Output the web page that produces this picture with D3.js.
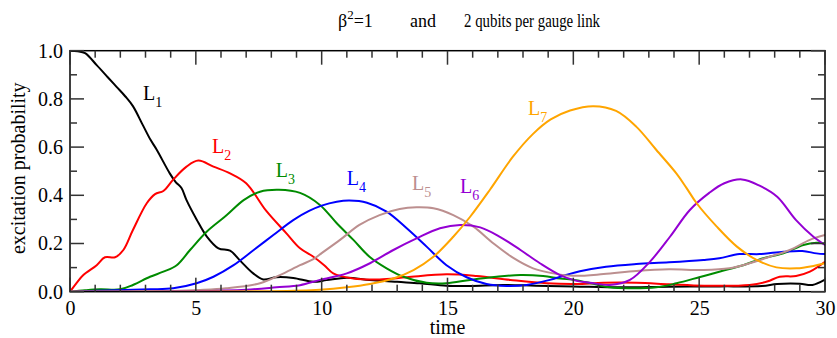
<!DOCTYPE html>
<html>
<head>
<meta charset="utf-8">
<script src="https://cdn.jsdelivr.net/npm/d3@7"></script>
<style>
  body { margin: 0; background: #fff; }
  text { font-family: "Liberation Serif", "DejaVu Serif", serif; }
</style>
</head>
<body>
<svg id="chart" width="837" height="338"></svg>
<script>
// data (time, excitation probability)
var L1 = [[0,1.0],[0.3,0.998],[0.6,0.99],[1.06,0.94],[1.5,0.89],[1.85,0.85],[2.2,0.81],[2.5,0.77],[2.9,0.69],[3.2,0.63],[3.44,0.59],[3.97,0.49],[4.2,0.455],[4.43,0.43],[4.63,0.38],[5.03,0.30],[5.43,0.23],[5.9,0.18],[6.36,0.17],[6.75,0.13],[7.28,0.076],[7.68,0.051],[8.2,0.06],[8.87,0.057],[9.67,0.041],[10.2,0.048],[11.0,0.058],[11.9,0.049],[13.0,0.041],[13.9,0.035],[14.96,0.025],[15.9,0.024],[17.2,0.028],[18.5,0.025],[20.0,0.022],[21.9,0.018],[23.8,0.021],[25.8,0.022],[27.5,0.024],[28.1,0.032],[29.0,0.033],[29.5,0.028],[30,0.05]];
var L2 = [[0,0],[0.25,0.035],[0.53,0.069],[1.06,0.11],[1.39,0.143],[1.79,0.143],[2.12,0.173],[2.5,0.256],[3.05,0.367],[3.38,0.405],[3.71,0.418],[4.1,0.465],[4.63,0.519],[5.1,0.544],[5.7,0.519],[6.36,0.491],[7.0,0.45],[7.8,0.335],[8.6,0.242],[9.14,0.18],[9.67,0.145],[10.1,0.11],[10.46,0.076],[11.26,0.055],[12.3,0.051],[13.38,0.06],[14.96,0.072],[16.16,0.065],[17.5,0.049],[18.94,0.035],[20.1,0.032],[21.2,0.037],[22.5,0.037],[23.8,0.031],[25.2,0.025],[27.0,0.028],[27.7,0.042],[28.2,0.062],[28.85,0.065],[29.4,0.083],[30,0.124]];
var L3 = [[0,0],[0.6,0.006],[1.19,0.01],[1.99,0.01],[2.5,0.028],[3.18,0.062],[3.71,0.083],[4.24,0.11],[4.77,0.173],[5.43,0.249],[6.23,0.318],[6.9,0.38],[7.55,0.415],[8.3,0.423],[9.14,0.41],[9.93,0.36],[10.6,0.284],[11.26,0.215],[11.9,0.145],[12.58,0.097],[13.25,0.062],[14.17,0.037],[14.96,0.035],[15.9,0.049],[16.95,0.062],[17.9,0.069],[18.8,0.065],[19.47,0.055],[20.1,0.048],[20.7,0.035],[21.45,0.018],[22.2,0.014],[23.3,0.018],[24.1,0.035],[25.0,0.06],[25.8,0.083],[26.75,0.11],[27.55,0.139],[28.35,0.159],[29.14,0.194],[29.66,0.203],[30,0.2]];
var L4 = [[0,0],[1.85,0.006],[3.18,0.01],[4.1,0.014],[5.03,0.035],[5.7,0.062],[6.5,0.11],[7.3,0.173],[8.08,0.235],[8.87,0.297],[9.5,0.335],[10.0,0.357],[10.6,0.373],[11.1,0.378],[11.8,0.369],[12.58,0.332],[13.38,0.263],[14.17,0.187],[14.96,0.11],[15.76,0.06],[16.55,0.032],[17.35,0.024],[18.14,0.028],[19.07,0.049],[19.7,0.069],[20.26,0.085],[21.3,0.104],[22.5,0.115],[23.8,0.122],[25.17,0.132],[25.8,0.139],[26.6,0.156],[27.4,0.156],[28.35,0.166],[29.1,0.169],[29.66,0.159],[30,0.156]];
var L5 = [[0,0],[4,0.003],[5.17,0.007],[6.2,0.014],[7.55,0.035],[8.34,0.069],[9.14,0.11],[9.67,0.135],[10.0,0.16],[10.73,0.215],[11.5,0.277],[12.3,0.318],[13.1,0.343],[13.77,0.35],[14.44,0.346],[15.23,0.318],[16.03,0.27],[16.83,0.2],[17.63,0.139],[18.4,0.097],[19.2,0.076],[20.0,0.066],[21.2,0.073],[22.5,0.086],[23.8,0.093],[25.17,0.09],[26.2,0.097],[27.0,0.118],[27.8,0.145],[28.6,0.173],[29.4,0.215],[30,0.235]];
var L6 = [[0,0],[5,0.002],[7,0.008],[8.2,0.018],[9.14,0.027],[9.93,0.049],[11.0,0.076],[11.92,0.118],[12.85,0.173],[13.77,0.221],[14.7,0.263],[15.5,0.277],[16.3,0.267],[17.08,0.228],[17.9,0.173],[18.67,0.118],[19.47,0.069],[20.13,0.045],[20.66,0.037],[21.45,0.028],[22.25,0.049],[23.04,0.124],[23.84,0.228],[24.63,0.339],[25.4,0.41],[26.0,0.45],[26.7,0.466],[27.4,0.44],[28.1,0.394],[28.85,0.297],[29.54,0.228],[30,0.194]];
var L7 = [[0,0],[8,0.002],[9.93,0.008],[11.0,0.018],[11.92,0.032],[12.85,0.055],[13.65,0.09],[14.44,0.145],[15.23,0.228],[15.9,0.311],[16.7,0.425],[17.6,0.56],[18.4,0.655],[19.1,0.715],[19.87,0.752],[20.8,0.77],[21.7,0.75],[22.5,0.685],[23.3,0.588],[24.1,0.49],[24.5,0.43],[24.9,0.367],[25.7,0.27],[26.5,0.187],[27.28,0.132],[28.07,0.101],[28.87,0.097],[29.54,0.107],[30,0.118]];

var seriesNames = ["1", "2", "3", "4", "5", "6", "7"];
var seriesColors = ["#000000", "#ff0000", "#008b00", "#0000ff", "#bc8f8f", "#9400d3", "#ffa500"];
// label anchors in data units (time, probability)
var labelPos = [[2.9,0.795],[5.64,0.575],[8.18,0.476],[11.0,0.443],[13.59,0.422],[15.5,0.41],[18.2,0.733]];

var xTicks = [0, 5, 10, 15, 20, 25, 30];
var xMinor = [1,2,3,4,6,7,8,9,11,12,13,14,16,17,18,19,21,22,23,24,26,27,28,29];
var yTicks = [0, 0.2, 0.4, 0.6, 0.8, 1.0];
var yMinor = [0.1, 0.3, 0.5, 0.7, 0.9];

var width = 837, height = 338;
var margin = {left: 70, right: 12, top: 50.7, bottom: 46.3};
var majorLen = 14, minorLen = 7;

var svg = d3.select("#chart");

var x = d3.scaleLinear().domain([0, 30]).range([margin.left, width - margin.right]);
var y = d3.scaleLinear().domain([0, 1]).range([height - margin.bottom, margin.top]);

svg.append("defs").append("clipPath")
    .attr("id", "plotclip")
    .append("rect")
    .attr("x", x(0)).attr("y", y(1))
    .attr("width", x(30) - x(0)).attr("height", y(0) - y(1));

// curves
var line = d3.line()
    .x(function(d){ return x(d[0]); })
    .y(function(d){ return y(d[1]); })
    .curve(d3.curveCatmullRom.alpha(0.5));

var allSeries = [L1, L2, L3, L4, L5, L6, L7];

svg.append("g")
    .attr("clip-path", "url(#plotclip)")
    .selectAll("path")
    .data(allSeries)
    .enter()
    .append("path")
    .attr("d", line)
    .attr("fill", "none")
    .attr("stroke", function(d, i){ return seriesColors[i]; })
    .attr("stroke-width", 2);

// frame
svg.append("rect")
    .attr("x", x(0)).attr("y", y(1))
    .attr("width", x(30) - x(0)).attr("height", y(0) - y(1))
    .attr("fill", "none")
    .attr("stroke", "#000")
    .attr("stroke-width", 1.5);

// tick marks as thin rects, pointing inward on all four sides
var tw = 1.5;
var tickG = svg.append("g").attr("fill", "#333");
function xTickMarks(vals, len) {
    tickG.append("g").selectAll("rect").data(vals).enter().append("rect")
        .attr("x", function(d){ return x(d) - tw / 2; })
        .attr("y", y(0) - len).attr("width", tw).attr("height", len);
    tickG.append("g").selectAll("rect").data(vals).enter().append("rect")
        .attr("x", function(d){ return x(d) - tw / 2; })
        .attr("y", y(1)).attr("width", tw).attr("height", len);
}
function yTickMarks(vals, len) {
    tickG.append("g").selectAll("rect").data(vals).enter().append("rect")
        .attr("y", function(d){ return y(d) - tw / 2; })
        .attr("x", x(0)).attr("height", tw).attr("width", len);
    tickG.append("g").selectAll("rect").data(vals).enter().append("rect")
        .attr("y", function(d){ return y(d) - tw / 2; })
        .attr("x", x(30) - len).attr("height", tw).attr("width", len);
}
xTickMarks(xTicks, majorLen);
xTickMarks(xMinor, minorLen);
yTickMarks(yTicks, majorLen);
yTickMarks(yMinor, minorLen);

// tick labels through d3 axes
var xAxis = svg.append("g")
    .attr("transform", "translate(0," + y(0) + ")")
    .call(d3.axisBottom(x).tickValues(xTicks).tickSize(0).tickPadding(9).tickFormat(d3.format("d")));
var yAxis = svg.append("g")
    .attr("transform", "translate(" + x(0) + ",0)")
    .call(d3.axisLeft(y).tickValues(yTicks).tickSize(0).tickPadding(7).tickFormat(d3.format(".1f")));
[xAxis, yAxis].forEach(function(g){
    g.select(".domain").remove();
    g.selectAll("line").remove();
    g.selectAll("text").style("font-size", "20px").attr("fill", "#000");
});

// curve labels L_n
var lab = svg.append("g")
    .selectAll("text")
    .data(seriesNames)
    .enter()
    .append("text")
    .attr("x", function(d, i){ return x(labelPos[i][0]); })
    .attr("y", function(d, i){ return y(labelPos[i][1]); })
    .attr("fill", function(d, i){ return seriesColors[i]; })
    .style("font-size", "20px");
lab.append("tspan").text("L");
lab.append("tspan").attr("dy", 7).style("font-size", "14px").text(function(d){ return d; });

// axis titles
svg.append("text")
    .attr("x", (x(0) + x(30)) / 2)
    .attr("y", 334)
    .attr("text-anchor", "middle")
    .style("font-size", "20px")
    .text("time");

svg.append("text")
    .attr("transform", "translate(25," + ((y(0) + y(1)) / 2 - 3) + ") rotate(-90)")
    .attr("text-anchor", "middle")
    .style("font-size", "20px")
    .text("excitation probability");

// title
var title = svg.append("text")
    .attr("x", 338)
    .attr("y", 27)
    .style("font-size", "18px");
title.append("tspan").text("\u03b2");
title.append("tspan").attr("dy", -8).style("font-size", "13px").text("2");
title.append("tspan").attr("dy", 8).text("=1");
title.append("tspan").attr("x", 410).text("and");
title.append("tspan").attr("x", 464)
    .attr("textLength", 136)
    .attr("lengthAdjust", "spacingAndGlyphs")
    .text("2 qubits per gauge link");
</script>
</body>
</html>
